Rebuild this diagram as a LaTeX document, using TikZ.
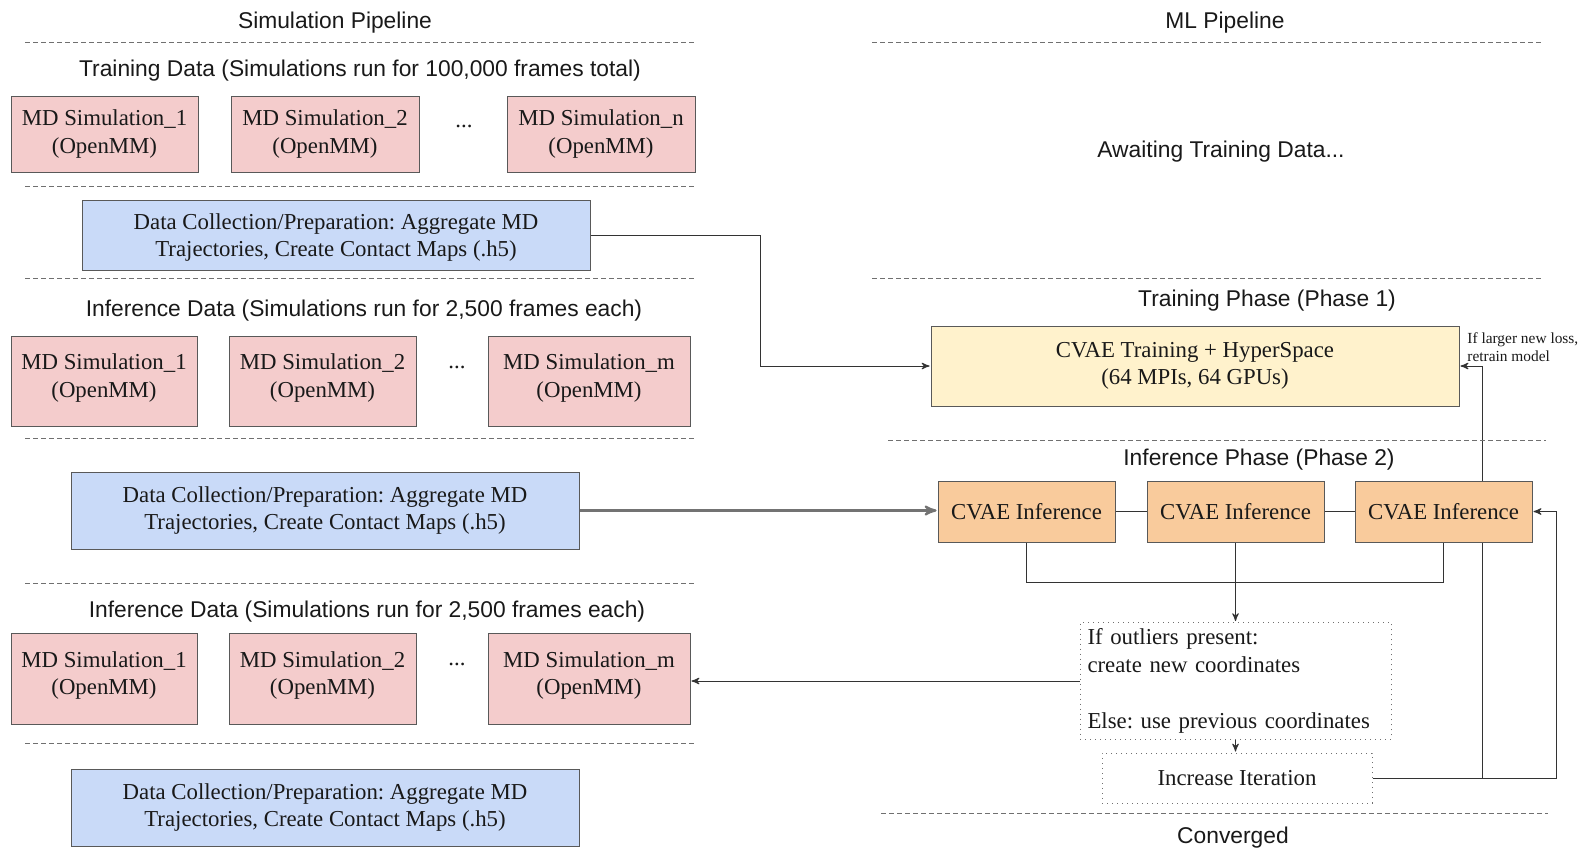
\documentclass[tikz,border=0pt]{standalone}
\usepackage{fontspec}
\setmainfont{Liberation Serif}
\newfontfamily\headfont{Liberation Sans}
\usetikzlibrary{arrows,positioning,backgrounds}
\frenchspacing

\definecolor{simpink}{HTML}{F4CCCC}
\definecolor{prepblue}{HTML}{C9DAF8}
\definecolor{trainyellow}{HTML}{FFF2CC}
\definecolor{inforange}{HTML}{F9CB9C}
\definecolor{boxgray}{HTML}{595959}
\definecolor{sepgray}{HTML}{707070}

\begin{document}
\begin{tikzpicture}[>=stealth',x=0.5pt,y=-0.5pt,
                    every node/.style={font=\fontsize{11.4}{13.6}\selectfont,text=black!90}]
\tikzstyle{head}=[font=\headfont\fontsize{11.4}{13.6}\selectfont,yshift=-1.5pt]
\tikzstyle{box}=[draw=boxgray,line width=0.5pt,align=center,inner sep=2pt]
\tikzstyle{mdbox}=[box,fill=simpink,minimum height=38pt]
\tikzstyle{tallmd}=[mdbox,text depth=5.4pt]
\tikzstyle{prepbox}=[box,fill=prepblue,minimum width=254pt]
\tikzstyle{infbox}=[box,fill=inforange,minimum width=88.5pt,minimum height=30.5pt]
\tikzstyle{dotbox}=[draw=sepgray,dotted,line width=0.5pt,inner sep=3pt]
\tikzstyle{sep}=[draw=sepgray,dashed,dash pattern=on 2.5pt off 1.5pt,line width=0.4pt]
\tikzstyle{link}=[draw=black!80,line width=0.5pt]
\tikzstyle{conn}=[link,->,shorten >=0.5pt]

\useasboundingbox (0,0) rectangle (1579,847);

        % headers
        \node[head] (simhead)  at (335,20)  {Simulation Pipeline};
        \node[head] (mlhead)   at (1225,20) {ML Pipeline};
        \draw[sep] (25,42) -- (695,42);
        \draw[sep] (872,42) -- (1541,42);

        % training data
        \node[head] (traindata) at (360,68) {Training Data (Simulations run for 100,000 frames total)};
        \node[mdbox,minimum width=93.5pt] (md1a) at (104.5,134) {MD Simulation\_1\\(OpenMM)};
        \node[mdbox,minimum width=94pt]   (md1b) at (325,134)   {MD Simulation\_2\\(OpenMM)};
        \node[mdbox,minimum width=94pt]   (md1n) at (601,134)   {MD Simulation\_n\\(OpenMM)};
        \node (dots1) at (464,126) {...};
        \draw[sep] (25,186) -- (695,186);
        \node[prepbox,minimum height=35pt,text depth=0pt] (prep1) at (336,235)
            {Data Collection/Preparation: Aggregate MD\\Trajectories, Create Contact Maps (.h5)};
        \draw[sep] (25,278) -- (695,278);

        % first inference data
        \node[head] (infdata1) at (364,308) {Inference Data (Simulations run for 2,500 frames each)};
        \node[tallmd,minimum width=93pt,minimum height=45pt]  (md2a) at (104,381)   {MD Simulation\_1\\(OpenMM)};
        \node[tallmd,minimum width=93.5pt,minimum height=45pt] (md2b) at (322.5,381) {MD Simulation\_2\\(OpenMM)};
        \node[tallmd,minimum width=101pt,minimum height=45pt] (md2m) at (589,381)   {MD Simulation\_m\\(OpenMM)};
        \node (dots2) at (457,367) {...};
        \draw[sep] (25,438) -- (695,438);
        \node[prepbox,minimum height=38.5pt] (prep2) at (325,510.5)
            {Data Collection/Preparation: Aggregate MD\\Trajectories, Create Contact Maps (.h5)};
        \draw[sep] (25,583) -- (695,583);

        % second inference data
        \node[head] (infdata2) at (367,609) {Inference Data (Simulations run for 2,500 frames each)};
        \node[tallmd,minimum width=93pt,minimum height=45.5pt]  (md3a) at (104,678.5)   {MD Simulation\_1\\(OpenMM)};
        \node[tallmd,minimum width=93.5pt,minimum height=45.5pt] (md3b) at (322.5,678.5) {MD Simulation\_2\\(OpenMM)};
        \node[tallmd,minimum width=101pt,minimum height=45.5pt] (md3m) at (589,678.5)   {MD Simulation\_m\\(OpenMM)};
        \node (dots3) at (457,664) {...};
        \draw[sep] (25,743) -- (695,743);
        \node[prepbox,minimum height=38.5pt] (prep3) at (325,807.5)
            {Data Collection/Preparation: Aggregate MD\\Trajectories, Create Contact Maps (.h5)};

        % ML side
        \node[head] (awaiting) at (1221,149) {Awaiting Training Data...};
        \draw[sep] (872,278) -- (1541,278);
        \node[head] (trainphase) at (1267,298) {Training Phase (Phase 1)};
        \node[box,fill=trainyellow,minimum width=264pt,minimum height=40pt] (train) at (1195,366)
            {CVAE Training + HyperSpace\\(64 MPIs, 64 GPUs)};
        \node[align=left,anchor=west,inner sep=0pt,font=\fontsize{7.7}{9}\selectfont] (retrain) at (1467,347)
            {If larger new loss,\\retrain model};
        \draw[sep] (888,440) -- (1546,440);
        \node[head] (infphase) at (1259,457) {Inference Phase (Phase 2)};
        \node[infbox] (inf1) at (1026.5,511.5) {CVAE Inference};
        \node[infbox] (inf2) at (1235.5,511.5) {CVAE Inference};
        \node[infbox] (inf3) at (1443.5,511.5) {CVAE Inference};
        \node[dotbox,minimum width=155.5pt,minimum height=57pt,text width=148pt,align=left,
              font=\fontsize{11.4}{14}\selectfont] (outlier) at (1235.5,681)
            {If outliers present:\\create new coordinates\\[14pt]Else: use previous coordinates};
        \node[dotbox,minimum width=135pt,minimum height=25pt] (iter) at (1237,778) {Increase Iteration};
        \draw[sep] (881,813) -- (1548,813);
        \node[head] (converged) at (1233,835) {Converged};

        % connectors
        \coordinate (bend1) at (760,366);
        \coordinate (merge) at (1235.5,582);
        \coordinate (loopin) at (1482,778);
        \coordinate (loopout) at (1556,778);

        \draw[conn] (prep1.east) -| (bend1) -- (train.west);
        \draw[conn,line width=1.1pt,draw=black!55] (prep2.east) -- (prep2.east -| inf1.west);
        \draw[link] (inf1.east) -- (inf2.west);
        \draw[link] (inf2.east) -- (inf3.west);
        \draw[link] (inf1.south) |- (merge) -| (inf3.south);
        \draw[conn] (inf2.south) -- (outlier.north);
        \draw[conn] (outlier.west) -- (outlier.west -| md3m.east);
        \draw[conn] (outlier.south) -- (outlier.south |- iter.north);
        \begin{pgfonlayer}{background}
        \draw[conn] (iter.east) -- (loopin) -- (loopin |- train.east) -- (train.east);
        \end{pgfonlayer}
        \draw[conn] (loopin) -- (loopout) -- (loopout |- inf3.east) -- (inf3.east);

\end{tikzpicture}
\end{document}
